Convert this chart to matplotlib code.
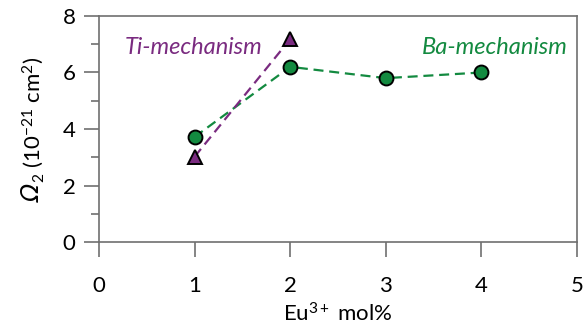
import matplotlib
matplotlib.use("Agg")
import matplotlib.pyplot as plt
from matplotlib.ticker import MultipleLocator

ba_x = [1, 2, 3, 4]
ba_y = [3.72, 6.2, 5.8, 6.0]
ti_x = [1, 2]
ti_y = [3.02, 7.18]
xticks = [0, 1, 2, 3, 4, 5]
yticks = [0, 2, 4, 6, 8]

green = "#138a40"
purple = "#7a2b80"
spine_c = "#707070"

plt.rcParams['font.family'] = ['Lato', 'DejaVu Sans']
plt.rcParams['mathtext.fontset'] = 'custom'
plt.rcParams['mathtext.rm'] = 'Lato'
plt.rcParams['mathtext.it'] = 'Lato:italic'

W, H = 588, 329
fig = plt.figure(figsize=(W / 100, H / 100), dpi=100)
ax = fig.add_axes([0.1684, 0.2644, 0.9813 - 0.1684, 0.9514 - 0.2644])

ax.plot(ba_x, ba_y, linestyle=(0, (4.5, 2.6)), color=green, lw=1.6,
        marker='o', ms=10, mfc=green, mec='black', mew=1.4, zorder=3)
ax.plot(ti_x, ti_y, linestyle=(0, (4.5, 2.6)), color=purple, lw=1.6,
        marker='^', ms=10, mfc=purple, mec='black', mew=1.4, zorder=4)

ax.set_xlim(0, 5)
ax.set_ylim(0, 8)
ax.set_xticks(xticks)
ax.set_yticks(yticks)
ax.yaxis.set_minor_locator(MultipleLocator(1))

for s in ax.spines.values():
    s.set_color(spine_c)
    s.set_linewidth(1.2)

ax.tick_params(axis='both', which='major', direction='out', length=10.8,
               width=1.2, color=spine_c, labelsize=16)
ax.tick_params(axis='y', which='minor', direction='out', length=5.8,
               width=1.2, color=spine_c)
ax.tick_params(axis='x', which='major', pad=14)
ax.tick_params(axis='y', which='major', pad=6)

ax.set_xlabel(r'Eu$^{3+}$ mol%', fontsize=16, labelpad=4)

# y label: italic Omega + rest, built from two rotated texts
base_x = 40 / W
t1 = fig.text(base_x, 0.3, 'Ω', rotation=90, rotation_mode='anchor',
              ha='left', va='baseline', fontsize=17, style='italic',
              family=['DejaVu Sans'])
t2 = fig.text(base_x, 0.5, r'$_2$ (10$^{-21}$ cm$^2$)', rotation=90,
              rotation_mode='anchor', ha='left', va='baseline', fontsize=16)
fig.canvas.draw()
r = fig.canvas.get_renderer()
h1 = t1.get_window_extent(r).height
h2 = t2.get_window_extent(r).height
total = h1 + 1 + h2
center = H - 129
start = center - total / 2
t1.set_position((base_x, start / H))
t2.set_position((base_x, (start + h1 + 1) / H))

ax.text(0.27, 6.9, 'Ti-mechanism', color=purple, fontsize=17, style='italic',
        ha='left', va='center')
ax.text(4.9, 6.9, 'Ba-mechanism', color=green, fontsize=17, style='italic',
        ha='right', va='center')

fig.savefig('out.png', dpi=100)
